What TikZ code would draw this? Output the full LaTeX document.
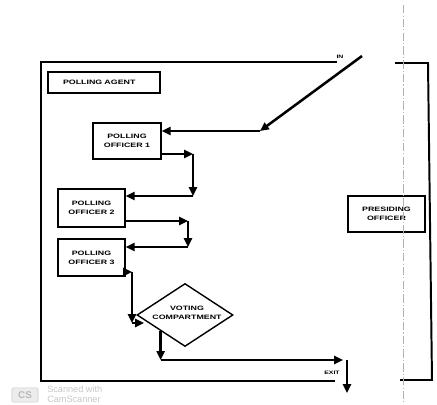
\documentclass[tikz,border=0pt]{standalone}
\usepackage{fontspec}
\newfontfamily\plakfont[FakeStretch=1.4]{Liberation Sans}
\newfontfamily\scanfont{Liberation Sans}
\usetikzlibrary{positioning}
\usetikzlibrary{shapes.geometric, arrows.meta}

\begin{document}
\begin{tikzpicture}[x=0.25mm,y=-0.25mm,
  wall/.style={line width=1.4pt},
  flow/.style={line width=1.8pt,-{Triangle[length=2.2mm,width=2mm]}},
  desk/.style={draw,line width=1pt,rectangle,inner sep=0pt,align=center,
    font=\plakfont\bfseries\fontsize{4.5}{6.5}\selectfont},
  tag/.style={inner sep=0pt,font=\plakfont\bfseries\fontsize{3.5}{4}\selectfont}]
\useasboundingbox (0,0) rectangle (437,405);

% room walls
\draw[wall] (337,62) -- (41,62) -- (41,381) -- (335,381);
\draw[wall] (395,63) -- (428,63) -- (432,380) -- (400,380);

% desks
\node[desk,minimum width=28mm,minimum height=5.25mm,text width=20.5mm,align=left,inner xsep=3.75mm] (agent) at (104,82.5) {POLLING AGENT};
\node[desk,minimum width=17mm,minimum height=9mm] (po1) at (127,141) {POLLING\\OFFICER 1};
\node[desk,minimum width=16.75mm,minimum height=9.5mm] (po2) at (91.5,208) {POLLING\\OFFICER 2};
\node[desk,minimum width=16.75mm,minimum height=9.25mm] (po3) at (91.5,257.5) {POLLING\\OFFICER 3};
\node[desk,minimum width=19.25mm,minimum height=9mm] (presiding) at (386.5,214) {PRESIDING\\OFFICER};
\node[diamond,draw,line width=1pt,minimum width=24mm,minimum height=15.75mm,inner sep=0pt] (booth) at (185,315) {};
\node[align=center,inner sep=0pt,font=\plakfont\bfseries\fontsize{4.5}{6}\selectfont] (boothtext) at (187,313) {VOTING\\COMPARTMENT};

\node[tag] (inlabel) at (340,57) {IN};
\node[tag] (exitlabel) at (332,373) {EXIT};

% bends of the voter's path
\coordinate (entry) at (362,56);
\coordinate (turn) at (260,131);
\coordinate (a1) at (193,154);
\coordinate (a2) at (193,196);
\coordinate (b1) at (188,221);
\coordinate (b2) at (188,247);
\coordinate (c1) at (132,272);
\coordinate (c2) at (132,323);
\coordinate (c3) at (144,323);
\coordinate (d2) at (161,360);
\coordinate (e1) at (343,360);
\coordinate (e2) at (347,360);
\coordinate (out) at (347,393);

\draw[flow] (entry) -- (turn);
\draw[flow] (turn) -- (turn -| po1.east);
\draw[flow] (po1.east |- a1) -- (a1);
\draw[flow] (a1) -- (a2);
\draw[flow] (a2) -- (a2 -| po2.east);
\draw[flow] (po2.east |- b1) -- (b1);
\draw[flow] (b1) -- (b2);
\draw[flow] (b2) -- (b2 -| po3.east);
\draw[flow] (po3.east |- c1) -- (c1);
\draw[flow] (c1) -- (c2);
\draw[flow] (c2) -- (c3);
\draw[flow] (booth.south west) -- (booth.south west |- d2);
\draw[flow] (booth.south west |- d2) -- (e1);
\draw[flow] (e2) -- (out);

% fold line of the scan
\draw[gray!60,line width=0.4pt,dash pattern=on 6pt off 1.5pt on 0.8pt off 1.5pt] (403,5) -- (403,405);

% scanner mark
\node[draw=gray!40,fill=gray!15,rounded corners=1pt,minimum width=6.5mm,minimum height=3.6mm,inner sep=0pt,
  text=gray!55,font=\scanfont\bfseries\fontsize{7}{7}\selectfont] (cslogo) at (25,395) {CS};
\node[anchor=west,align=left,inner sep=0pt,text=gray!45,font=\scanfont\fontsize{6.5}{7.2}\selectfont] (scantext) at (47,394) {Scanned with\\CamScanner};
\end{tikzpicture}
\end{document}
